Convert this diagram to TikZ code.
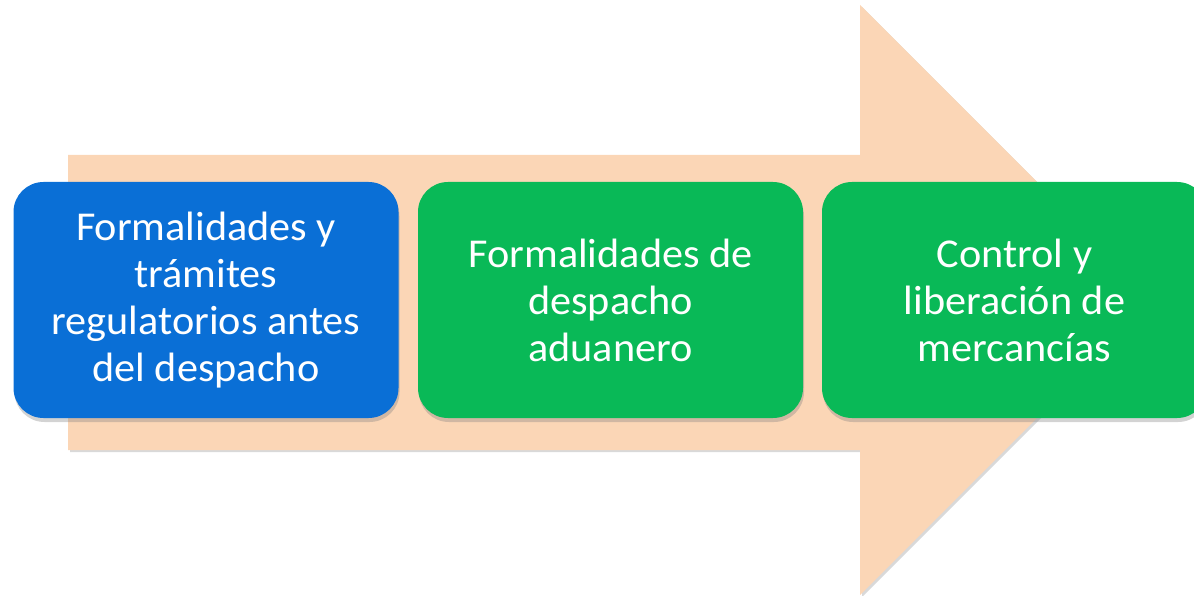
\documentclass[tikz,border=0pt]{standalone}
\usepackage{fontspec}
\newfontfamily\boxfont[FakeStretch=1.03]{Carlito}
\usetikzlibrary{shadows}
\definecolor{peach}{RGB}{251,214,182}
\definecolor{stepblue}{RGB}{10,111,214}
\definecolor{stepgreen}{RGB}{9,185,87}
\tikzset{
	stepbox/.style={rounded corners=30pt, minimum width=385pt, minimum height=236pt,
		text=white, align=center, inner sep=0pt,
		font=\boxfont\fontsize{41}{47}\selectfont,
		drop shadow={shadow xshift=1pt, shadow yshift=-4pt, opacity=0.35}}
}
\begin{document}
\begin{tikzpicture}[x=1pt, y=-1pt] % image coordinates
	\newcommand{\bodyTop}{155}
	\newcommand{\bodyBottom}{450}
	\newcommand{\headX}{860}
	
	\useasboundingbox (0,0) rectangle (1194,596);
	
	% big arrow in the background
	\fill[peach, drop shadow={shadow xshift=2pt, shadow yshift=-2pt, opacity=0.3}]
		(68,\bodyTop) -- (\headX,\bodyTop) -- (\headX,5) -- (1155,300)
		-- (\headX,595) -- (\headX,\bodyBottom) -- (68,\bodyBottom) -- cycle;
	
	% steps
	\node[stepbox, fill=stepblue] (pre) at (206,300) {Formalidades y\\trámites\\regulatorios antes\\del despacho};
	\node[stepbox, fill=stepgreen] (desp) at (610.5,300) {Formalidades de\\despacho\\aduanero};
	\node[stepbox, fill=stepgreen] (lib) at (1014.5,300) {Control y\\liberación de\\mercancías};
\end{tikzpicture}
\end{document}
